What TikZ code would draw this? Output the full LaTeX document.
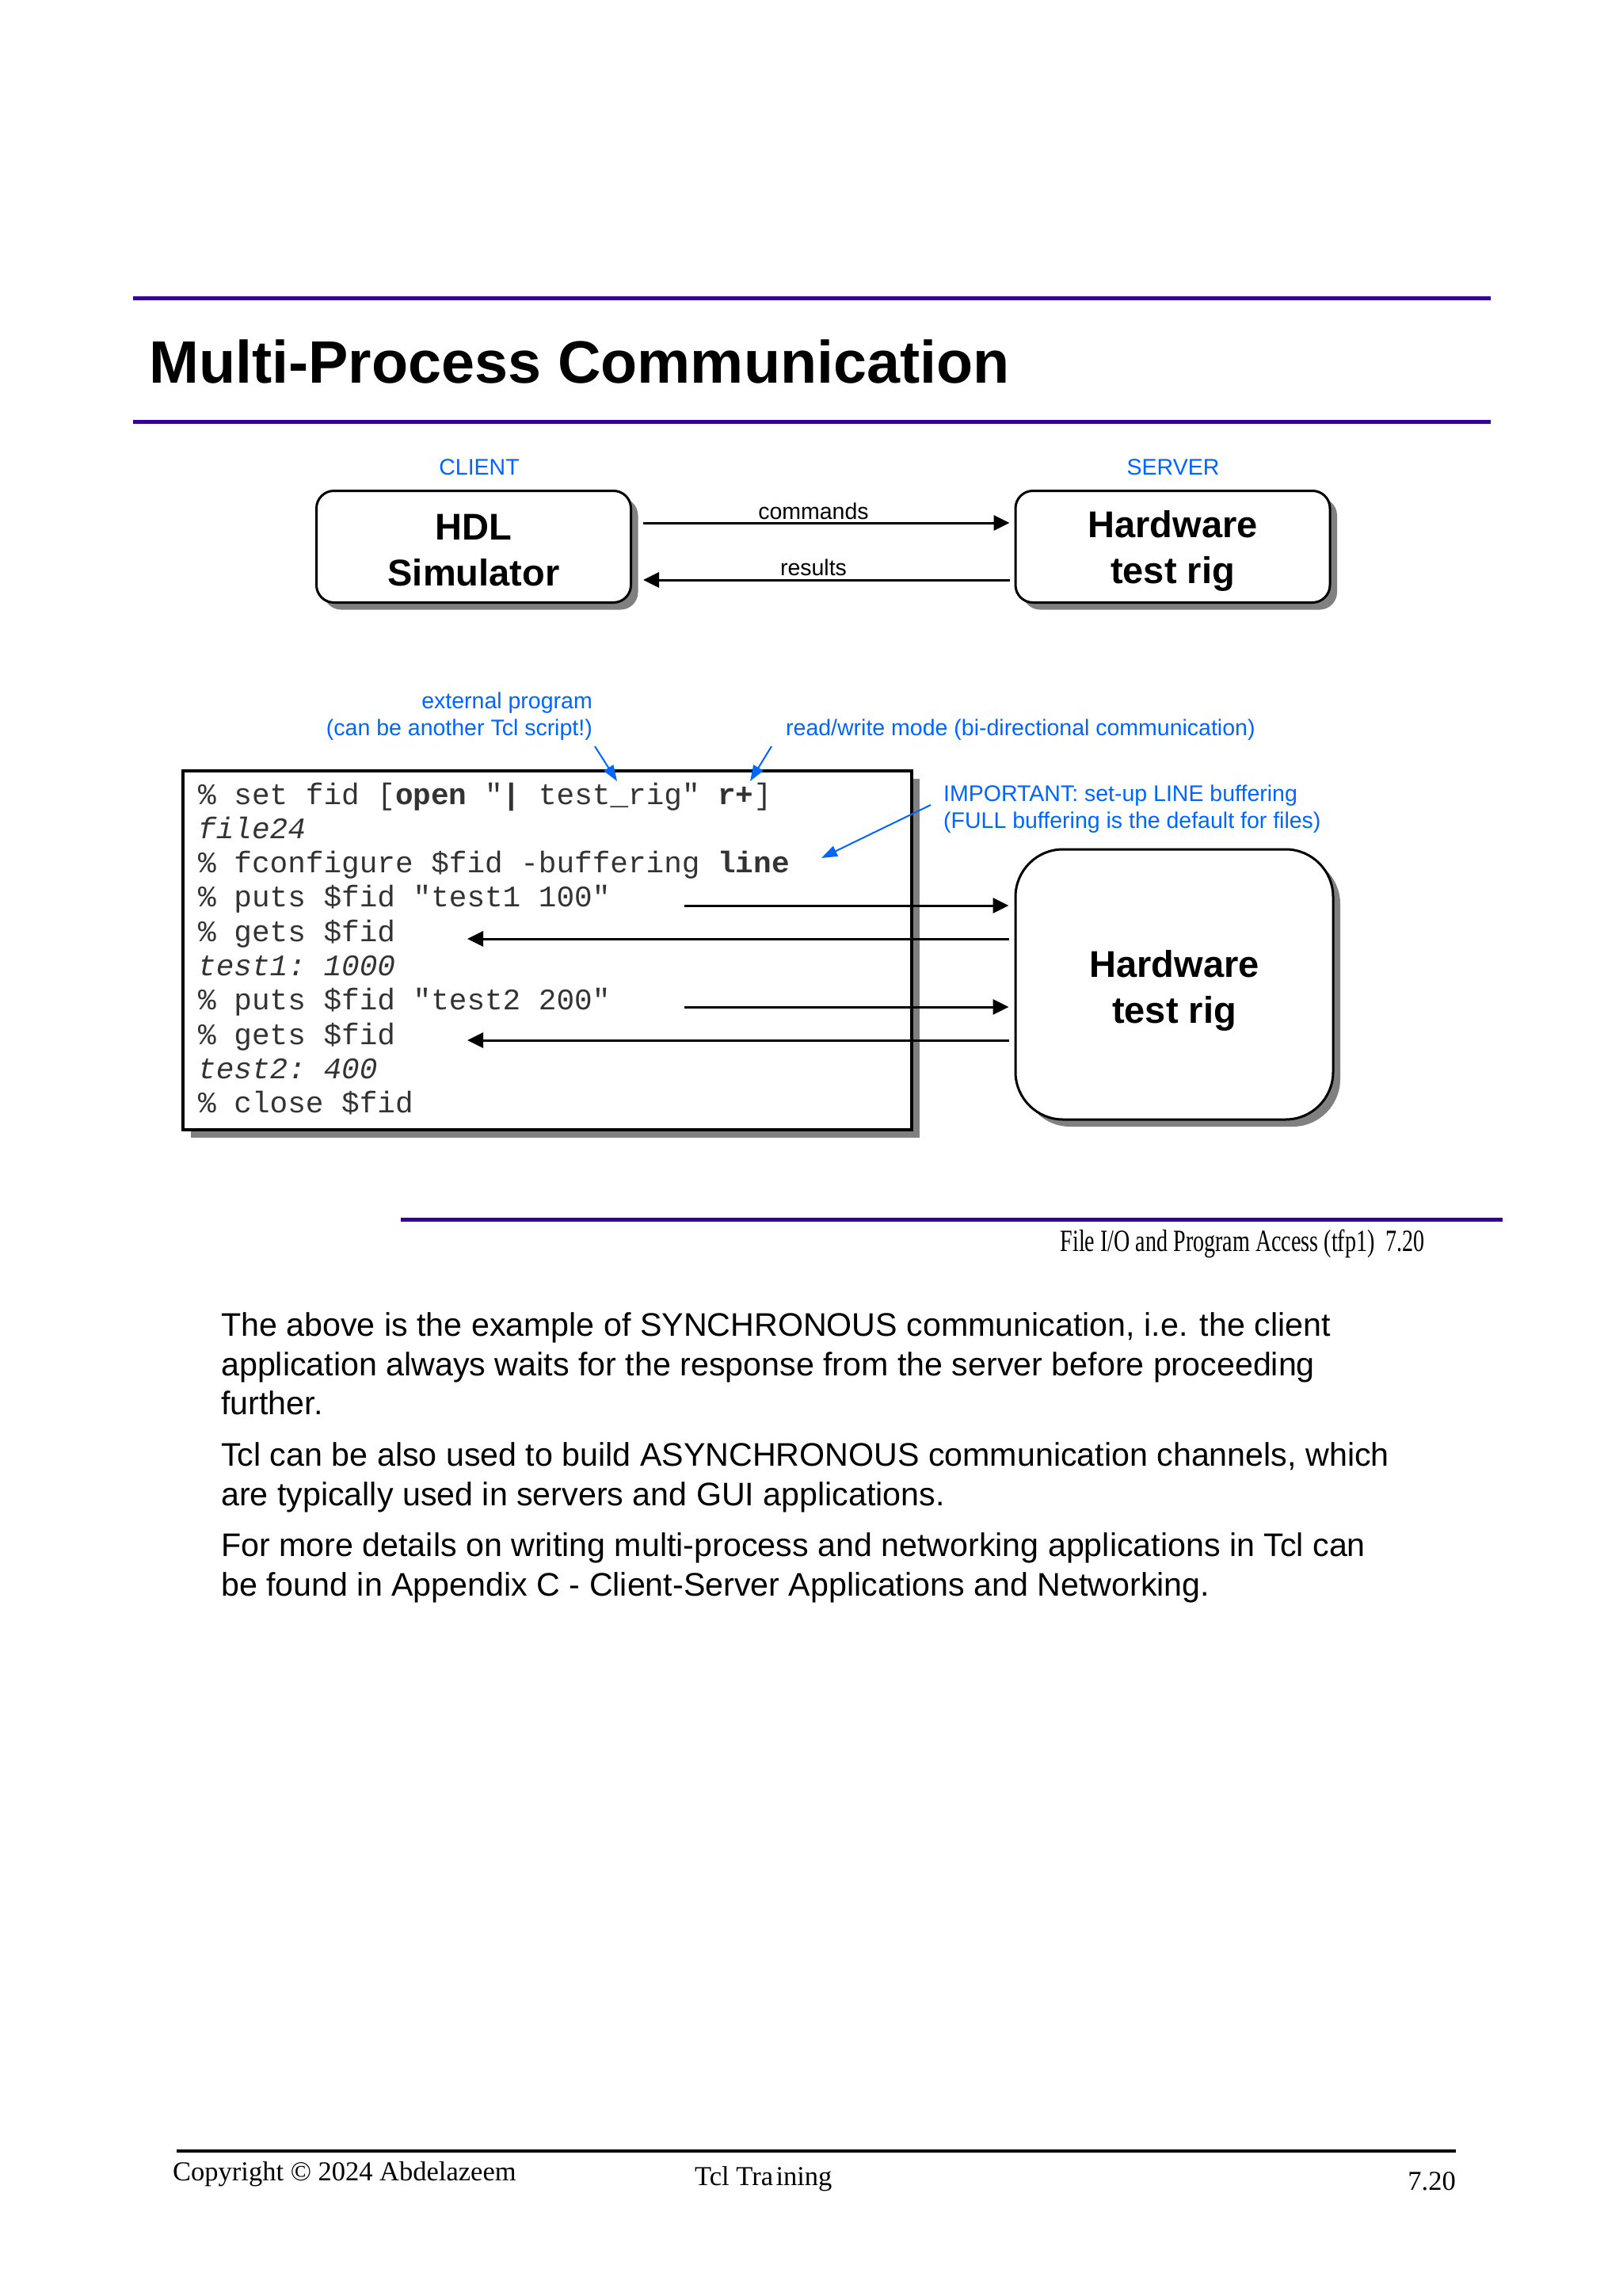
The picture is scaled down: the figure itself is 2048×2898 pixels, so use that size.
\documentclass[tikz,border=0pt]{standalone}
\usepackage{fontspec}
\setmainfont{Liberation Sans}
\setmonofont{Liberation Mono}
\newfontfamily\timesfont{Liberation Serif}
\newfontfamily\condserif[FakeStretch=0.72]{Liberation Serif}
\usetikzlibrary{arrows.meta,shadows}
\definecolor{rulepurple}{RGB}{51,0,153}
\definecolor{noteblue}{RGB}{0,102,255}
\definecolor{shadowgray}{RGB}{128,128,128}
\tikzset{
  purplerule/.style={draw=rulepurple, line width=5pt},
  blackrule/.style={draw=black, line width=3.5pt},
  titletext/.style={anchor=base west, inner sep=0pt, font=\bfseries\fontsize{75.5}{75.5}\selectfont},
  notetext/.style={text=noteblue, inner sep=0pt, font=\fontsize{28.5}{28.5}\selectfont},
  lbltext/.style={inner sep=0pt, anchor=base, font=\fontsize{28.5}{28.5}\selectfont},
  procbox/.style={draw, line width=3pt, fill=white, inner sep=0pt,
    drop shadow={shadow xshift=9pt, shadow yshift=-9pt, fill=shadowgray, opacity=1}},
  boxtext/.style={align=center, inner sep=0pt, font=\bfseries\fontsize{47}{58}\selectfont},
  codebox/.style={draw, line width=4pt, fill=white, inner sep=0pt,
    drop shadow={shadow xshift=10pt, shadow yshift=-10pt, fill=shadowgray, opacity=1}},
  codeline/.style={anchor=base west, inner sep=0pt, text=black!80, font=\ttfamily\fontsize{37.7}{37.7}\selectfont},
  bodyline/.style={anchor=base west, inner sep=0pt, font=\fontsize{41.2}{41.2}\selectfont},
  foottext/.style={inner sep=0pt, font=\timesfont\fontsize{34.5}{34.5}\selectfont},
  arr/.style={line width=3pt, -{Triangle[length=20pt,width=19pt]}},
  bluearr/.style={draw=noteblue, line width=2pt, -{Triangle[length=20pt,width=14pt]}},
}
\begin{document}
\begin{tikzpicture}[x=1pt,y=-1pt]
\useasboundingbox (0,0) rectangle (2048,2898);
\fill[white] (0,0) rectangle (2048,2898);

% header rules and title
\coordinate (r1a) at (168,376); \coordinate (r1b) at (1882,376);
\coordinate (r2a) at (168,532); \coordinate (r2b) at (1882,532);
\draw[purplerule] (r1a) -- (r1b);
\draw[purplerule] (r2a) -- (r2b);
\node[titletext] (title) at (188,483) {Multi-Process Communication};

% top diagram
\node[notetext, anchor=base] (client) at (605,599) {CLIENT};
\node[notetext, anchor=base] (server) at (1481,599) {SERVER};
\node[procbox, rounded corners=22pt, minimum width=397pt, minimum height=141pt] (hdl) at (598,690) {};
\node[boxtext] (hdlt) at (598,695) {HDL\\Simulator};
\node[procbox, rounded corners=22pt, minimum width=397pt, minimum height=141pt] (hw1) at (1480.5,690) {};
\node[boxtext] (hw1t) at (1480.5,695) {Hardware\\test rig};
\coordinate (cmdL) at (812,660);
\coordinate (resL) at (812,732);
\draw[arr, shorten >=6pt] (cmdL) -- (cmdL -| hw1.west);
\draw[arr, shorten <=6pt] (resL -| hw1.west) -- (resL);
\node[lbltext] (cmdlbl) at (1027,655) {commands};
\node[lbltext] (reslbl) at (1027,726) {results};

% annotations
\node[notetext, anchor=base east] (ext1) at (748,894) {external program};
\node[notetext, anchor=base east] (ext2) at (748,928) {(can be another Tcl script!)};
\node[notetext, anchor=base west] (rw) at (992,928) {read/write mode (bi-directional communication)};
\node[notetext, anchor=base west] (imp1) at (1191,1011) {IMPORTANT: set-up LINE buffering};
\node[notetext, anchor=base west] (imp2) at (1191,1045) {(FULL buffering is the default for files)};

% code box
\node[codebox, minimum width=920pt, minimum height=453pt] (code) at (691,1199) {};
\node[codeline] (c1) at (250,1015) {\% set fid [\textbf{open} "\textbf{|} test\_rig" \textbf{r+}]};
\node[codeline] (c2) at (250,1058.3) {\textit{file24}};
\node[codeline] (c3) at (250,1101.6) {\% fconfigure \$fid -buffering \textbf{line}};
\node[codeline] (c4) at (250,1144.9) {\% puts \$fid "test1 100"};
\node[codeline] (c5) at (250,1188.2) {\% gets \$fid};
\node[codeline] (c6) at (250,1231.5) {\textit{test1: 1000}};
\node[codeline] (c7) at (250,1274.8) {\% puts \$fid "test2 200"};
\node[codeline] (c8) at (250,1318.1) {\% gets \$fid};
\node[codeline] (c9) at (250,1361.4) {\textit{test2: 400}};
\node[codeline] (c10) at (250,1404.7) {\% close \$fid};

% blue pointer arrows
\coordinate (b1s) at (751,942); \coordinate (b1e) at (779,986);
\coordinate (b2s) at (974,942); \coordinate (b2e) at (947,986);
\coordinate (b3s) at (1175,1016); \coordinate (b3e) at (1037,1083);
\draw[bluearr] (b1s) -- (b1e);
\draw[bluearr] (b2s) -- (b2e);
\draw[bluearr] (b3s) -- (b3e);

% server box
\node[procbox, rounded corners=60pt, minimum width=401pt, minimum height=341pt] (hw2) at (1482.5,1242.5) {};
\node[boxtext] (hw2t) at (1482.5,1250) {Hardware\\test rig};
\coordinate (p1) at (864,1143);
\coordinate (g1) at (590,1185);
\coordinate (p2) at (864,1271);
\coordinate (g2) at (590,1313);
\draw[arr, shorten >=7pt] (p1) -- (p1 -| hw2.west);
\draw[arr, shorten <=7pt] (g1 -| hw2.west) -- (g1);
\draw[arr, shorten >=7pt] (p2) -- (p2 -| hw2.west);
\draw[arr, shorten <=7pt] (g2 -| hw2.west) -- (g2);

% section rule
\coordinate (r3a) at (506,1539.5); \coordinate (r3b) at (1897,1539.5);
\draw[purplerule] (r3a) -- (r3b);
\node[inner sep=0pt, anchor=base east, font=\condserif\fontsize{39}{39}\selectfont] (sect) at (1799,1579) {File I/O and Program Access (tfp1)\ \ 7.20};

% body text
\node[bodyline] (t1) at (279,1686) {The above is the example of SYNCHRONOUS communication, i.e. the client};
\node[bodyline] (t2) at (279,1736) {application always waits for the response from the server before proceeding};
\node[bodyline] (t3) at (279,1785) {further.};
\node[bodyline] (t4) at (279,1850) {Tcl can be also used to build ASYNCHRONOUS communication channels, which};
\node[bodyline] (t5) at (279,1900) {are typically used in servers and GUI applications.};
\node[bodyline] (t6) at (279,1964) {For more details on writing multi-process and networking applications in Tcl can};
\node[bodyline] (t7) at (279,2014) {be found in Appendix C - Client-Server Applications and Networking.};

% footer
\coordinate (f1) at (223,2715); \coordinate (f2) at (1838,2715);
\draw[blackrule] (f1) -- (f2);
\node[foottext, anchor=base west] (copy) at (218,2752) {Copyright © 2024 Abdelazeem};
\node[foottext, anchor=base west] (train) at (877,2758) {Tcl Tra\kern0.1em ining};
\node[foottext, anchor=base east] (pnum) at (1838,2764) {7.20};
\end{tikzpicture}
\end{document}
